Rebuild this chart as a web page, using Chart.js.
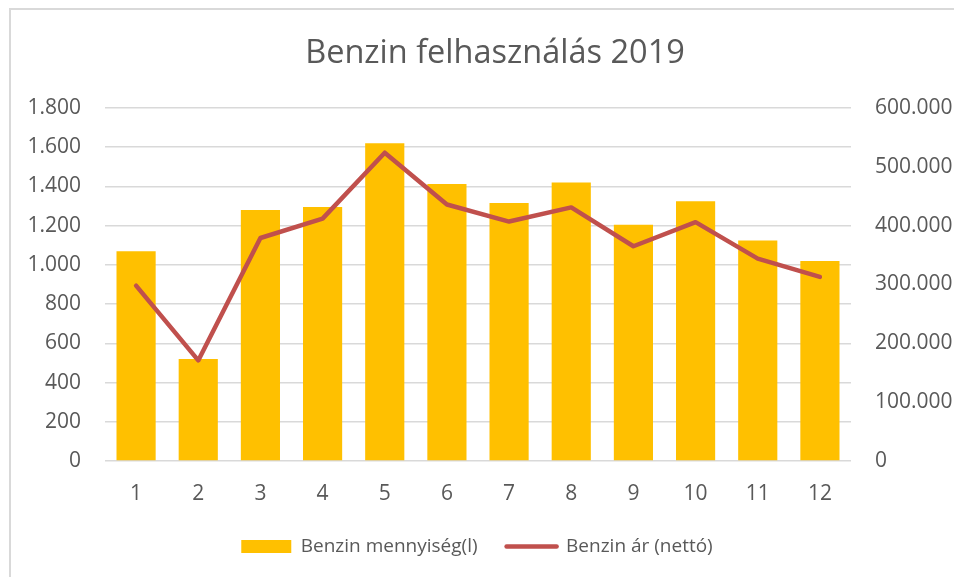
<!DOCTYPE html>
<html lang="hu">
<head>
<meta charset="utf-8">
<title>Benzin felhasználás 2019</title>
<script src="https://cdn.jsdelivr.net/npm/chart.js@4/dist/chart.umd.min.js"></script>
<style>
  html, body { margin: 0; padding: 0; background: #fff; }
  #wrap { position: relative; width: 954px; height: 577px; overflow: hidden; }
  #frame { position: absolute; left: 9px; top: 8px; width: 980px; height: 600px; border: 2px solid #d9d9d9; }
  #chart { position: absolute; left: 0; top: 0; }
</style>
</head>
<body>
<div id="wrap">
  <div id="frame"></div>
  <canvas id="chart" width="954" height="577"></canvas>
</div>
<script>
// adatok
const honapok = ["1", "2", "3", "4", "5", "6", "7", "8", "9", "10", "11", "12"];
const mennyiseg = [1070, 520, 1280, 1295, 1620, 1412, 1315, 1420, 1205, 1325, 1125, 1020];
const ar = [298000, 171000, 379000, 412000, 524000, 436000, 407000, 431000, 365000, 406000, 344000, 313000];

const cimSzoveg = "Benzin felhasználás 2019";
const mennyisegCimke = "Benzin mennyiség(l)";
const arCimke = "Benzin ár (nettó)";

const balTengely = { max: 1800, lepes: 200 };
const jobbTengely = { max: 600000, lepes: 100000 };

const SARGA = "#FFC000";
const PIROS = "#C0504D";
const SZURKE = "#595959";
const RACS = "#d9d9d9";

// ezres elválasztó ponttal (magyar Excel formátum)
const fmt = v => String(v).replace(/\B(?=(\d{3})+(?!\d))/g, ".");

Chart.defaults.font.family = "'Open Sans', sans-serif";
Chart.defaults.color = SZURKE;

// az Excel-es cím kicsit jobbra van a középtől
const cimEltolas = {
  id: "cimEltolas",
  afterLayout(chart) {
    const t = chart.titleBlock;
    if (t) { t.left += 18; t.right += 18; }
  }
};

const ctx = document.getElementById("chart").getContext("2d");

new Chart(ctx, {
  type: "bar",
  data: {
    labels: honapok,
    datasets: [
      {
        type: "bar",
        label: mennyisegCimke,
        data: mennyiseg,
        backgroundColor: SARGA,
        yAxisID: "y",
        order: 1,
        categoryPercentage: 1,
        barPercentage: 0.63
      },
      {
        type: "line",
        label: arCimke,
        data: ar,
        borderColor: PIROS,
        backgroundColor: PIROS,
        borderWidth: 4.5,
        borderJoinStyle: "round",
        borderCapStyle: "round",
        pointRadius: 0,
        tension: 0,
        fill: false,
        yAxisID: "y1",
        order: 0
      }
    ]
  },
  plugins: [cimEltolas],
  options: {
    responsive: false,
    animation: false,
    layout: { padding: { left: 0, right: 0, top: 0, bottom: 11 } },
    plugins: {
      title: {
        display: true,
        text: cimSzoveg,
        color: SZURKE,
        font: { size: 32.5, weight: "normal" },
        padding: { top: 34, bottom: 35 }
      },
      legend: {
        position: "bottom",
        labels: {
          color: SZURKE,
          font: { size: 19 },
          usePointStyle: true,
          pointStyleWidth: 50,
          boxHeight: 13,
          padding: 29,
          sort: (a, b) => a.datasetIndex - b.datasetIndex,
          generateLabels: () => [
            { text: mennyisegCimke, fillStyle: SARGA, strokeStyle: SARGA, lineWidth: 0,
              pointStyle: "rect", datasetIndex: 0, fontColor: SZURKE },
            { text: arCimke, fillStyle: PIROS, strokeStyle: PIROS, lineWidth: 4.5,
              lineCap: "round", pointStyle: "line", datasetIndex: 1, fontColor: SZURKE }
          ]
        }
      },
      tooltip: { enabled: false }
    },
    scales: {
      x: {
        afterFit: s => { s.height = 47; },
        grid: { display: false, drawTicks: false },
        border: { display: false },
        ticks: { color: SZURKE, font: { size: 21 }, padding: 20 }
      },
      y: {
        position: "left",
        min: 0,
        max: balTengely.max,
        afterFit: s => { s.width = 105; },
        grid: { color: RACS, lineWidth: 1.5, drawTicks: false },
        border: { display: false },
        ticks: { stepSize: balTengely.lepes, color: SZURKE, font: { size: 21 }, padding: 24, callback: v => fmt(v) }
      },
      y1: {
        position: "right",
        min: 0,
        max: jobbTengely.max,
        afterFit: s => { s.width = 103; },
        grid: { display: false, drawTicks: false },
        border: { display: false },
        ticks: { stepSize: jobbTengely.lepes, color: SZURKE, font: { size: 21 }, padding: 24, callback: v => fmt(v) }
      }
    }
  }
});
</script>
</body>
</html>
